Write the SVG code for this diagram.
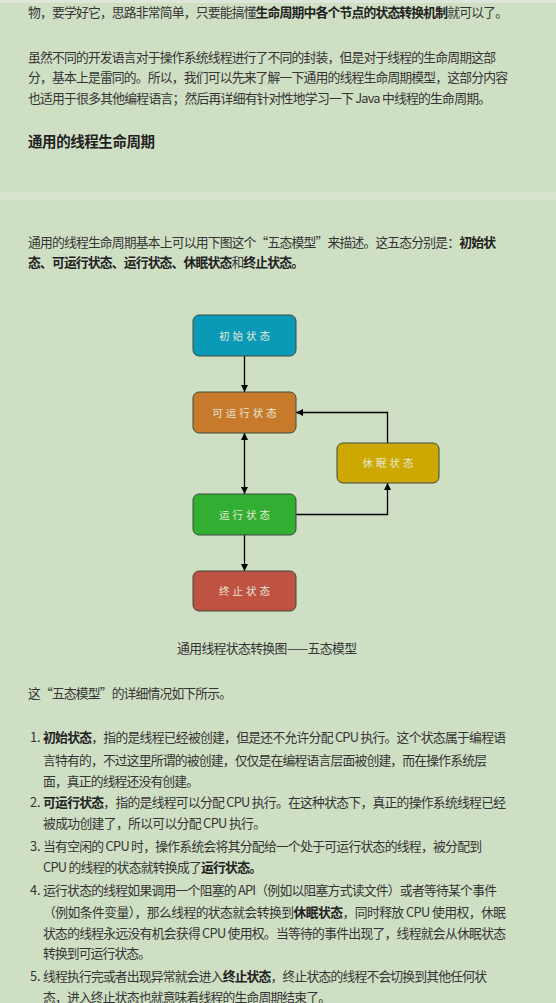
<svg xmlns="http://www.w3.org/2000/svg" width="556" height="1003" viewBox="0 0 556 1003">
<style>
.t{font-family:"Noto Sans CJK SC","Noto Sans",sans-serif;font-size:12.8px;fill:#353535}
.b{font-weight:bold;fill:#222}
.h{font-family:"Noto Sans CJK SC",sans-serif;font-size:14.5px;font-weight:bold;fill:#222}
.box{stroke:#3b4a3e;stroke-width:1}
.lbl{font-family:"Noto Sans CJK SC",sans-serif;font-size:10.5px;fill:#e4e8d4;letter-spacing:3px;text-anchor:middle}
.ln{fill:none;stroke:#000;stroke-width:1.3}
</style>
<defs>
<marker id="ah" viewBox="0 0 10 10" refX="10" refY="5" markerWidth="7" markerHeight="7" markerUnits="userSpaceOnUse" orient="auto-start-reverse">
<path d="M0,0 L10,5 L0,10 z" fill="#000"/>
</marker>
</defs>
<rect x="0" y="0" width="556" height="1003" fill="#cfdfc4"/>
<rect x="0" y="0" width="556" height="3" fill="#dde6d8"/>
<rect x="0" y="192" width="556" height="8" fill="#d5e4cb"/>

<g id="text">
<text class="t" x="28" y="16.5" textLength="480" lengthAdjust="spacing">物，要学好它，思路非常简单，只要能搞懂<tspan class="b">生命周期中各个节点的状态转换机制</tspan>就可以了。</text>
<text class="t" x="28" y="61.5" textLength="468" lengthAdjust="spacing">虽然不同的开发语言对于操作系统线程进行了不同的封装，但是对于线程的生命周期这部</text>
<text class="t" x="28" y="81.5" textLength="480" lengthAdjust="spacing">分，基本上是雷同的。所以，我们可以先来了解一下通用的线程生命周期模型，这部分内容</text>
<text class="t" x="28" y="102.5" textLength="463" lengthAdjust="spacing">也适用于很多其他编程语言；然后再详细有针对性地学习一下 Java 中线程的生命周期。</text>
<text class="h" x="28" y="147" textLength="127" lengthAdjust="spacing">通用的线程生命周期</text>
<text class="t" x="28" y="246.5" textLength="468" lengthAdjust="spacing">通用的线程生命周期基本上可以用下图这个“五态模型”来描述。这五态分别是：<tspan class="b">初始状</tspan></text>
<text class="t" x="28" y="266.5" textLength="276" lengthAdjust="spacing"><tspan class="b">态、可运行状态、运行状态、休眠状态</tspan>和<tspan class="b">终止状态。</tspan></text>
<text class="t" x="177" y="652.5" textLength="180" lengthAdjust="spacing">通用线程状态转换图——五态模型</text>
<text class="t" x="28" y="697.5" textLength="204" lengthAdjust="spacing">这“五态模型”的详细情况如下所示。</text>

<text class="t" x="30" y="741.5">1.</text>
<text class="t" x="43" y="741.5" textLength="463" lengthAdjust="spacing"><tspan class="b">初始状态</tspan>，指的是线程已经被创建，但是还不允许分配 CPU 执行。这个状态属于编程语</text>
<text class="t" x="43" y="764.5" textLength="444" lengthAdjust="spacing">言特有的，不过这里所谓的被创建，仅仅是在编程语言层面被创建，而在操作系统层</text>
<text class="t" x="43" y="785.5" textLength="156" lengthAdjust="spacing">面，真正的线程还没有创建。</text>
<text class="t" x="30" y="807">2.</text>
<text class="t" x="43" y="807" textLength="463" lengthAdjust="spacing"><tspan class="b">可运行状态</tspan>，指的是线程可以分配 CPU 执行。在这种状态下，真正的操作系统线程已经</text>
<text class="t" x="43" y="827.5" textLength="223" lengthAdjust="spacing">被成功创建了，所以可以分配 CPU 执行。</text>
<text class="t" x="30" y="850.5">3.</text>
<text class="t" x="43" y="850.5" textLength="439" lengthAdjust="spacing">当有空闲的 CPU 时，操作系统会将其分配给一个处于可运行状态的线程，被分配到</text>
<text class="t" x="43" y="871.5" textLength="219" lengthAdjust="spacing">CPU 的线程的状态就转换成了<tspan class="b">运行状态。</tspan></text>
<text class="t" x="30" y="894.5">4.</text>
<text class="t" x="43" y="894.5" textLength="454" lengthAdjust="spacing">运行状态的线程如果调用一个阻塞的 API（例如以阻塞方式读文件）或者等待某个事件</text>
<text class="t" x="43" y="916.5" textLength="463" lengthAdjust="spacing">（例如条件变量），那么线程的状态就会转换到<tspan class="b">休眠状态</tspan>，同时释放 CPU 使用权，休眠</text>
<text class="t" x="43" y="937.5" textLength="463" lengthAdjust="spacing">状态的线程永远没有机会获得 CPU 使用权。当等待的事件出现了，线程就会从休眠状态</text>
<text class="t" x="43" y="958" textLength="108" lengthAdjust="spacing">转换到可运行状态。</text>
<text class="t" x="30" y="980.5">5.</text>
<text class="t" x="43" y="980.5" textLength="444" lengthAdjust="spacing">线程执行完或者出现异常就会进入<tspan class="b">终止状态</tspan>，终止状态的线程不会切换到其他任何状</text>
<text class="t" x="43" y="1001.5" textLength="288" lengthAdjust="spacing">态，进入终止状态也就意味着线程的生命周期结束了。</text>
</g>

<g id="connectors">
<line class="ln" x1="244.5" y1="356" x2="244.5" y2="392" marker-end="url(#ah)"/>
<line class="ln" x1="244.5" y1="433" x2="244.5" y2="494" marker-start="url(#ah)" marker-end="url(#ah)"/>
<line class="ln" x1="244.5" y1="535" x2="244.5" y2="571" marker-end="url(#ah)"/>
<polyline class="ln" points="296,514.5 387.5,514.5 387.5,483" marker-end="url(#ah)"/>
<polyline class="ln" points="387.5,443 387.5,412.5 296,412.5" marker-end="url(#ah)"/>
</g>

<g id="node-init">
<rect class="box" x="193" y="315" width="103" height="41" rx="6" fill="#0a9ab8"/>
<text class="lbl" x="246" y="339.5">初始状态</text>
</g>
<g id="node-runnable">
<rect class="box" x="193" y="392" width="103" height="41" rx="6" fill="#c87a2c"/>
<text class="lbl" x="246" y="416.5">可运行状态</text>
</g>
<g id="node-sleep">
<rect class="box" x="337" y="443" width="102" height="40" rx="6" fill="#cca800"/>
<text class="lbl" x="389.5" y="467">休眠状态</text>
</g>
<g id="node-running">
<rect class="box" x="193" y="494" width="103" height="41" rx="6" fill="#32ae32"/>
<text class="lbl" x="246" y="518.5">运行状态</text>
</g>
<g id="node-end">
<rect class="box" x="193" y="571" width="103" height="40" rx="6" fill="#c05243"/>
<text class="lbl" x="246" y="595">终止状态</text>
</g>
</svg>
